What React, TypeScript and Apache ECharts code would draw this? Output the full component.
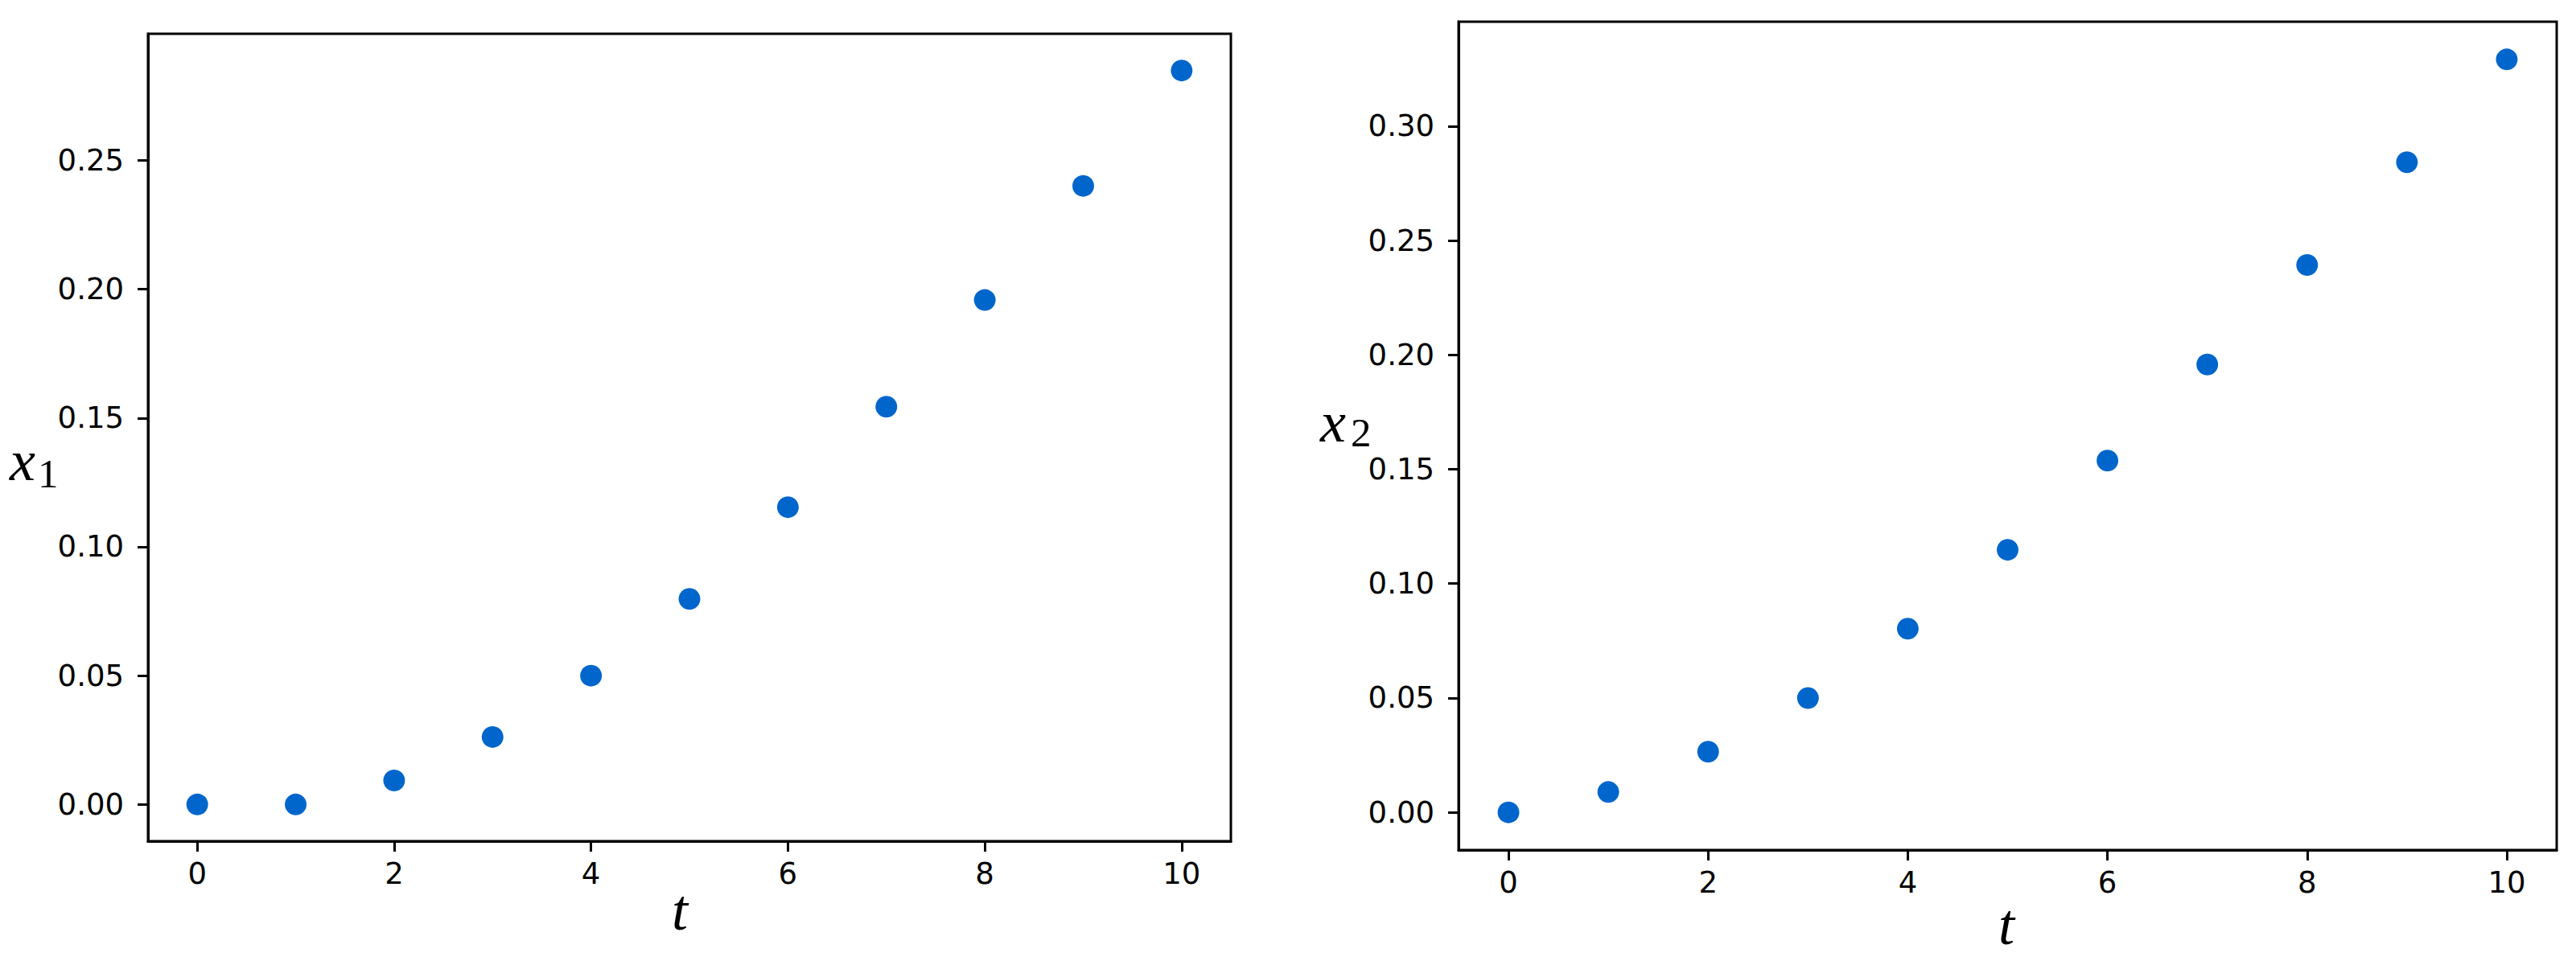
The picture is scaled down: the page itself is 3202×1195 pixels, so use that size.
import React, { useEffect, useRef } from "react";
import * as echarts from "echarts";

const tValues = [0, 1, 2, 3, 4, 5, 6, 7, 8, 9, 10];
const x1Values = [0, 0, 0.0093, 0.0262, 0.05, 0.0798, 0.1154, 0.1544, 0.1958, 0.2401, 0.2849];
const x2Values = [0, 0.0089, 0.0265, 0.05, 0.0803, 0.1148, 0.1538, 0.1958, 0.2393, 0.2842, 0.3292];
const tTicks = [0, 2, 4, 6, 8, 10];
const y1Ticks = [0, 0.05, 0.1, 0.15, 0.2, 0.25];
const y2Ticks = [0, 0.05, 0.1, 0.15, 0.2, 0.25, 0.3];

const tickFont = { fontFamily: "DejaVu Sans", fontSize: 37, color: "#000" };

function xAxisOpt(gridIndex: number) {
  return {
    type: "value",
    gridIndex,
    min: -0.5,
    max: 10.5,
    splitLine: { show: false },
    axisLine: { show: true, onZero: false, lineStyle: { color: "#000", width: 3 } },
    axisTick: { show: true, inside: false, length: 13, customValues: tTicks, lineStyle: { color: "#000", width: 3 } },
    axisLabel: { ...tickFont, margin: 22, customValues: tTicks, formatter: (v: number) => String(v) },
  };
}

function yAxisOpt(gridIndex: number, min: number, max: number, ticks: number[]) {
  return {
    type: "value",
    gridIndex,
    min,
    max,
    splitLine: { show: false },
    axisLine: { show: true, onZero: false, lineStyle: { color: "#000", width: 3 } },
    axisTick: { show: true, inside: false, length: 13, customValues: ticks, lineStyle: { color: "#000", width: 3 } },
    axisLabel: { ...tickFont, margin: 30, customValues: ticks, formatter: (v: number) => v.toFixed(2) },
  };
}

const serif = "'Liberation Serif', 'DejaVu Serif', serif";

function label(x: number, y: number, text: string, size: number, align = "left") {
  return {
    type: "text",
    x,
    y,
    style: {
      text,
      fill: "#000",
      fontFamily: serif,
      fontStyle: text.match(/[a-z]/) ? "italic" : "normal",
      fontSize: size,
      textAlign: align,
      textVerticalAlign: "middle",
    },
  };
}

export default function App() {
  const ref = useRef<HTMLDivElement>(null);
  useEffect(() => {
    document.body.style.margin = "0";
    document.body.style.overflow = "hidden";
    const chart = echarts.init(ref.current!, null, { renderer: "svg" });
    chart.setOption({
      animation: false,
      backgroundColor: "#fff",
      grid: [
        { left: 184, top: 42, width: 1346, height: 1004, show: true, borderColor: "#000", borderWidth: 3, containLabel: false },
        { left: 1813, top: 27, width: 1365, height: 1030, show: true, borderColor: "#000", borderWidth: 3, containLabel: false },
      ],
      xAxis: [xAxisOpt(0), xAxisOpt(1)],
      yAxis: [
        yAxisOpt(0, -0.01425, 0.29915, y1Ticks),
        yAxisOpt(1, -0.01646, 0.34566, y2Ticks),
      ],
      series: [
        {
          type: "scatter",
          xAxisIndex: 0,
          yAxisIndex: 0,
          symbol: "circle",
          symbolSize: 27,
          itemStyle: { color: "#0066cc", opacity: 1 },
          data: tValues.map((t, i) => [t, x1Values[i]]),
        },
        {
          type: "scatter",
          xAxisIndex: 1,
          yAxisIndex: 1,
          symbol: "circle",
          symbolSize: 27,
          itemStyle: { color: "#0066cc", opacity: 1 },
          data: tValues.map((t, i) => [t, x2Values[i]]),
        },
      ],
      graphic: [
        label(12, 573, "x", 72),
        label(47, 589, "1", 51),
        label(1641, 525, "x", 72),
        label(1679, 538, "2", 51),
        label(845, 1132, "t", 72, "center"),
        label(2494, 1150, "t", 72, "center"),
      ],
    });
    return () => chart.dispose();
  }, []);
  return <div ref={ref} style={{ width: 3202, height: 1195 }} />;
}
